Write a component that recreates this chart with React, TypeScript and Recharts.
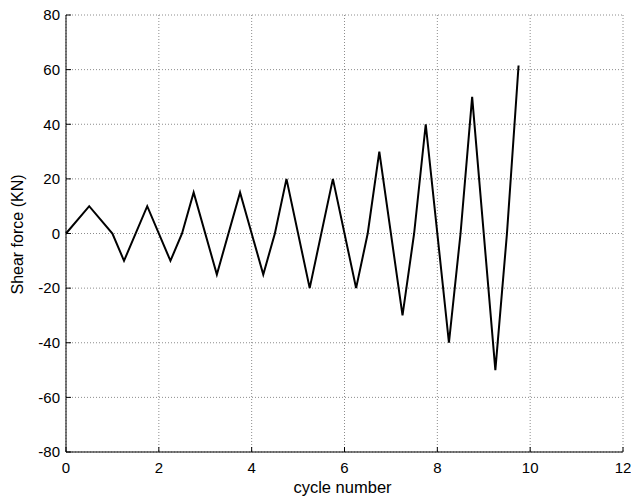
import { LineChart, Line, XAxis, YAxis, CartesianGrid } from "recharts";

// cycle number vs shear force (KN)
const cycle = [
  0, 0.5, 1, 1.25, 1.75, 2.25, 2.5, 2.75, 3.25, 3.75, 4.25, 4.5, 4.75, 5.25,
  5.75, 6.25, 6.5, 6.75, 7.25, 7.5, 7.75, 8.25, 8.5, 8.75, 9.25, 9.5, 9.75,
];
const shear = [
  0, 10, 0, -10, 10, -10, 0, 15, -15, 15, -15, 0, 20, -20, 20, -20, 0, 30, -30,
  0, 40, -40, 0, 50, -50, 0, 61.5,
];
const xTicks = [0, 2, 4, 6, 8, 10, 12];
const yTicks = [-80, -60, -40, -20, 0, 20, 40, 60, 80];

const data = cycle.map((x, i) => ({ x, y: shear[i] }));

const font = "'Liberation Sans', Arial, sans-serif";
const tickStyle = { fontSize: 15, fill: "#000", fontFamily: font };

export default function App() {
  return (
    <div style={{ position: "absolute", left: 0, top: 0, background: "#fff" }}>
      <LineChart
        width={631}
        height={500}
        data={data}
        margin={{ top: 15, right: 8, left: 0, bottom: 0 }}
      >
        <CartesianGrid stroke="#8c8c8c" strokeDasharray="1 2" />
        <XAxis
          dataKey="x"
          type="number"
          domain={[0, 12]}
          ticks={xTicks}
          height={48}
          stroke="#000"
          tickSize={-5}
          tickMargin={15}
          tick={tickStyle}
          label={{
            content: ({ viewBox }: any) => (
              <text
                x={viewBox.x + viewBox.width / 2 - 2}
                y={viewBox.y + 41}
                textAnchor="middle"
                fontSize={16.5}
                fontFamily={font}
                fill="#000"
              >
                cycle number
              </text>
            ),
          }}
        />
        <XAxis
          xAxisId="top"
          orientation="top"
          type="number"
          domain={[0, 12]}
          ticks={xTicks}
          height={0}
          stroke="#000"
          tickSize={-5}
          tick={false}
        />
        <YAxis
          type="number"
          domain={[-80, 80]}
          ticks={yTicks}
          width={66}
          stroke="#000"
          tickSize={-5}
          tickMargin={11}
          tick={tickStyle}
          label={{
            content: ({ viewBox }: any) => {
              const cx = viewBox.x + 17;
              const cy = viewBox.y + viewBox.height / 2 + 1;
              return (
                <text
                  x={cx}
                  y={cy}
                  transform={`rotate(-90 ${cx} ${cy})`}
                  textAnchor="middle"
                  dominantBaseline="central"
                  fontSize={16}
                  fontFamily={font}
                  fill="#000"
                >
                  Shear force (KN)
                </text>
              );
            },
          }}
        />
        <YAxis
          yAxisId="right"
          orientation="right"
          type="number"
          domain={[-80, 80]}
          ticks={yTicks}
          width={0}
          stroke="#000"
          tickSize={-5}
          tick={false}
        />
        <Line
          dataKey="y"
          type="linear"
          stroke="#000"
          strokeWidth={2}
          dot={false}
          isAnimationActive={false}
        />
      </LineChart>
    </div>
  );
}
